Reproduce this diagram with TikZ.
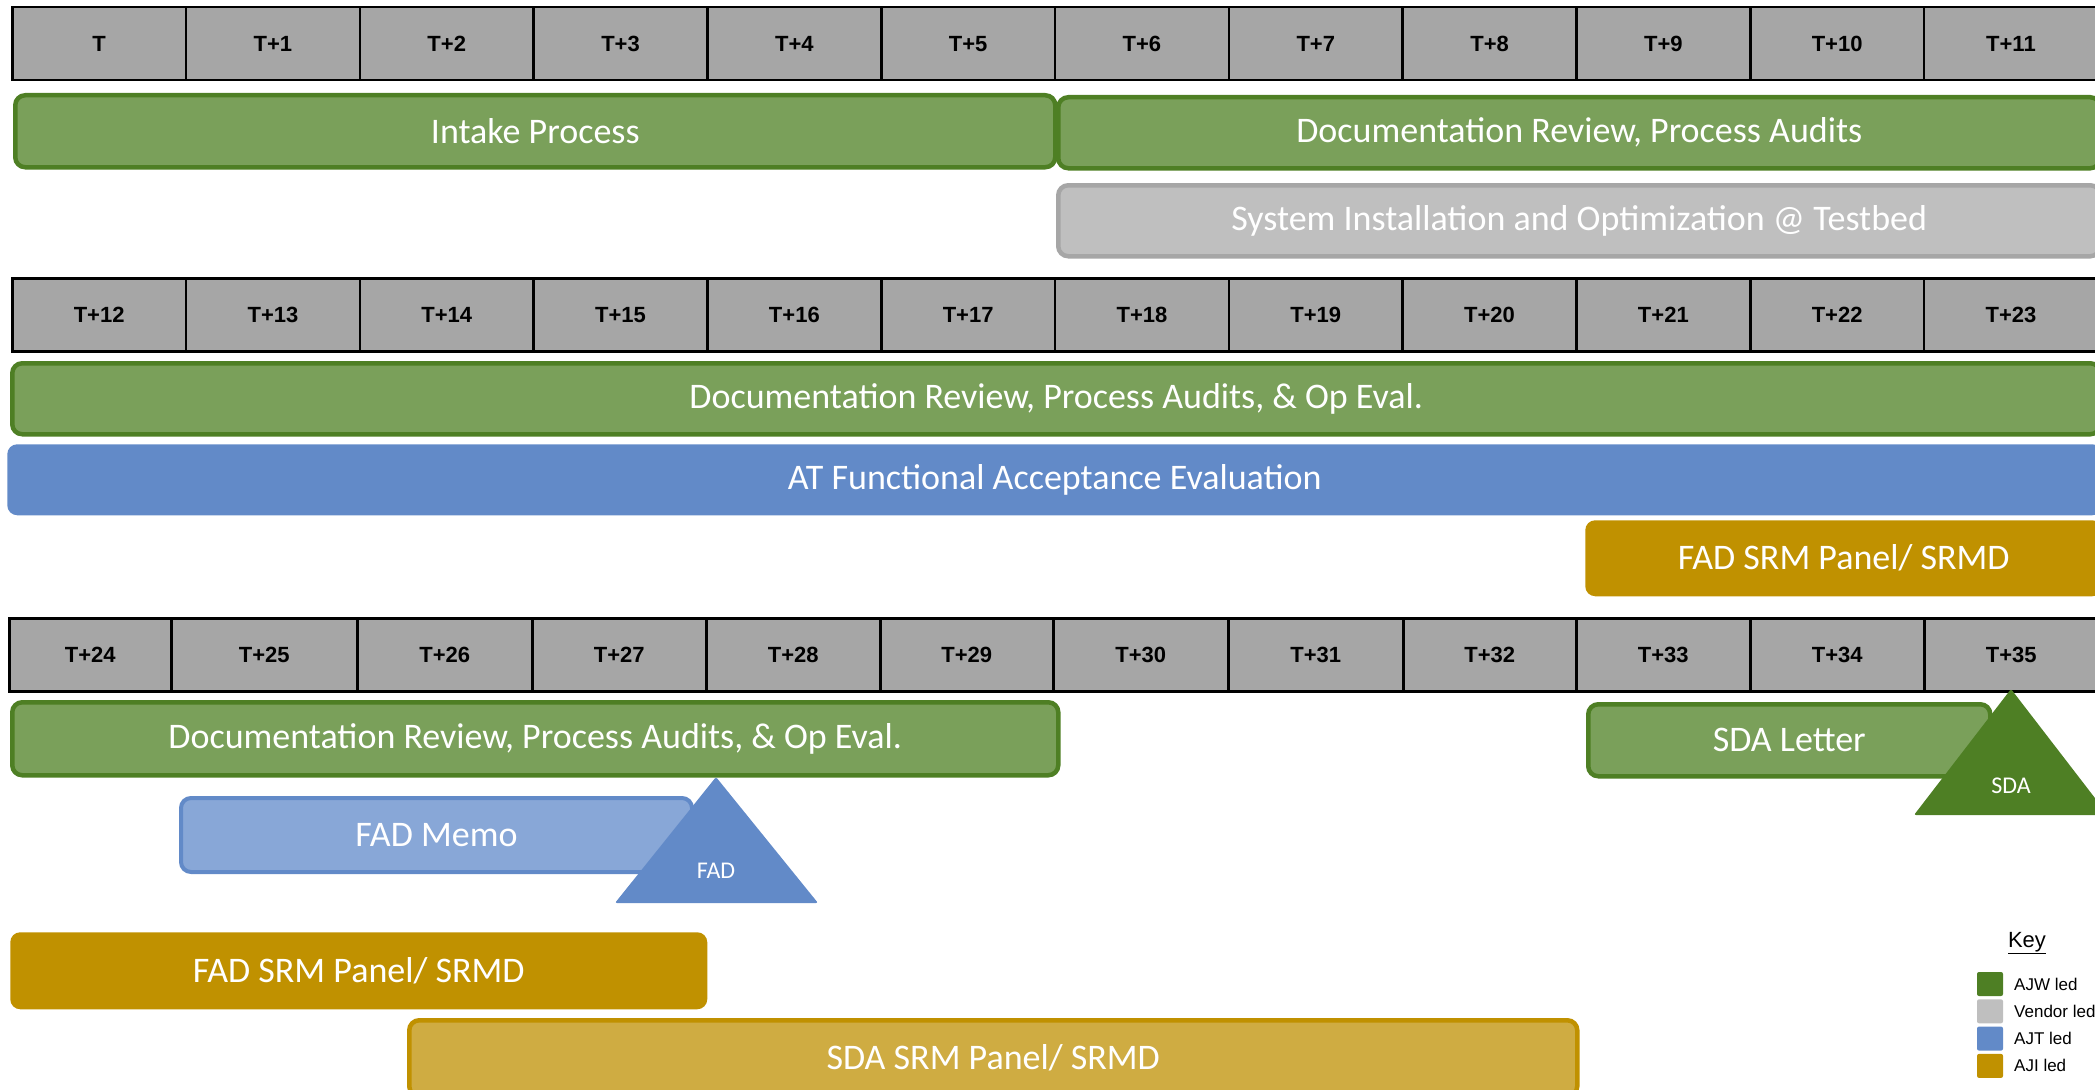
\documentclass[tikz,border=0pt]{standalone}
\usepackage{fontspec}
\setmainfont{Carlito}
\newfontfamily\arialfont{Liberation Sans}
\definecolor{hdrgray}{HTML}{A6A6A6}
\definecolor{ajwfill}{HTML}{7AA05A}
\definecolor{ajwline}{HTML}{4E7F24}
\definecolor{vendfill}{HTML}{BFBFBF}
\definecolor{vendline}{HTML}{A6A6A6}
\definecolor{ajtfill}{HTML}{628AC8}
\definecolor{ajtlight}{HTML}{88A7D7}
\definecolor{ajifill}{HTML}{C09100}
\definecolor{ajilight}{HTML}{CFAC42}
\begin{document}
\begin{tikzpicture}[x=1pt,y=-1pt,
  hcell/.style={draw=black,line width=2.5pt,fill=hdrgray,inner sep=0pt,anchor=north west,
    minimum height=73pt,font=\arialfont\bfseries\fontsize{22}{26}\selectfont},
  bar/.style={rounded corners=10pt,inner sep=0pt,line width=4.5pt,text=white,anchor=north west,
    font=\fontsize{36}{40}\selectfont},
  ajwbar/.style={bar,fill=ajwfill,draw=ajwline},
  vendbar/.style={bar,fill=vendfill,draw=vendline},
  ajtbar/.style={bar,fill=ajtfill},
  memobar/.style={bar,fill=ajtlight,draw=ajtfill,line width=4pt},
  ajibar/.style={bar,fill=ajifill},
  sdabar/.style={bar,fill=ajilight,draw=ajifill},
  mstone/.style={text=white,font=\fontsize{24}{28}\selectfont},
  keytext/.style={anchor=west,inner sep=0pt,font=\arialfont\fontsize{17}{20}\selectfont}]
\useasboundingbox (0,0) rectangle (2095,1089);
% month headers
\foreach \lbl [count=\i from 0] in {T,T+1,T+2,T+3,T+4,T+5,T+6,T+7,T+8,T+9,T+10,T+11}
  \node[hcell,minimum width=173.8pt] (ha\i) at ({11+173.8*\i},6) {\lbl};
\foreach \lbl [count=\i from 0] in {T+12,T+13,T+14,T+15,T+16,T+17,T+18,T+19,T+20,T+21,T+22,T+23}
  \node[hcell,minimum width=173.8pt] (hb\i) at ({11+173.8*\i},277) {\lbl};
\foreach \xa/\xb/\lbl [count=\i from 0] in {8/170/T+24,170/356/T+25,356/531/T+26,531/705/T+27,
    705/879/T+28,879/1052/T+29,1052/1227/T+30,1227/1402/T+31,1402/1575/T+32,
    1575/1749/T+33,1749/1923/T+34,1923/2097/T+35}
  \node[hcell,minimum width={(\xb-\xa)*1pt}] (hc\i) at (\xa,617) {\lbl};
% first block
\node[ajwbar,minimum width=1040pt,minimum height=72pt] (intake) at (13,93) {Intake Process};
\node[ajwbar,minimum width=1042pt,minimum height=71pt] (docaudit) at (1056,95) {Documentation Review, Process Audits};
\node[vendbar,minimum width=1042pt,minimum height=71pt] (sysinst) at (1056,183) {System Installation and Optimization @ Testbed};
% second block
\node[ajwbar,minimum width=2088pt,minimum height=71pt] (opevala) at (10,361) {Documentation Review, Process Audits, \& Op Eval.};
\node[ajtbar,minimum width=2095pt,minimum height=71pt] (atfunc) at (5,442) {AT Functional Acceptance Evaluation};
\node[ajibar,minimum width=517pt,minimum height=76pt] (fadsrma) at (1583,518) {FAD SRM Panel/ SRMD};
% third block
\node[ajwbar,minimum width=1046pt,minimum height=73pt] (opevalb) at (10,700) {Documentation Review, Process Audits, \& Op Eval.};
\node[ajwbar,minimum width=402pt,minimum height=72pt] (sdaletter) at (1586,702) {SDA Letter};
\node[memobar,minimum width=511pt,minimum height=74pt] (fadmemo) at (179,796) {FAD Memo};
\node[ajibar,minimum width=697pt,minimum height=77pt] (fadsrmb) at (8,930) {FAD SRM Panel/ SRMD};
\node[sdabar,minimum width=1168pt,minimum height=76pt] (sdasrm) at (407,1018) {SDA SRM Panel/ SRMD};
% milestones
\fill[ajtfill,rounded corners=2pt] (615,903) -- (716,777) -- (818,903) -- cycle;
\node[mstone] (fad) at (716,871) {FAD};
\fill[ajwline,rounded corners=2pt] (1914,815) -- (2011,689) -- (2108,815) -- cycle;
\node[mstone] (sda) at (2011,786) {SDA};
% key
\node[font=\arialfont\fontsize{22}{26}\selectfont] (key) at (2027,943) {\underline{Key}};
\foreach \c/\t [count=\i from 0] in {ajwline/AJW led,vendfill/Vendor led,ajtfill/AJT led,ajifill/AJI led} {
  \node[fill=\c,rounded corners=2pt,minimum width=26pt,minimum height=24pt,inner sep=0pt]
    (sq\i) at (1990,{984+27.3*\i}) {};
  \node[keytext] (kt\i) at (2014,{984+27.3*\i}) {\t};
}
\end{tikzpicture}
\end{document}
